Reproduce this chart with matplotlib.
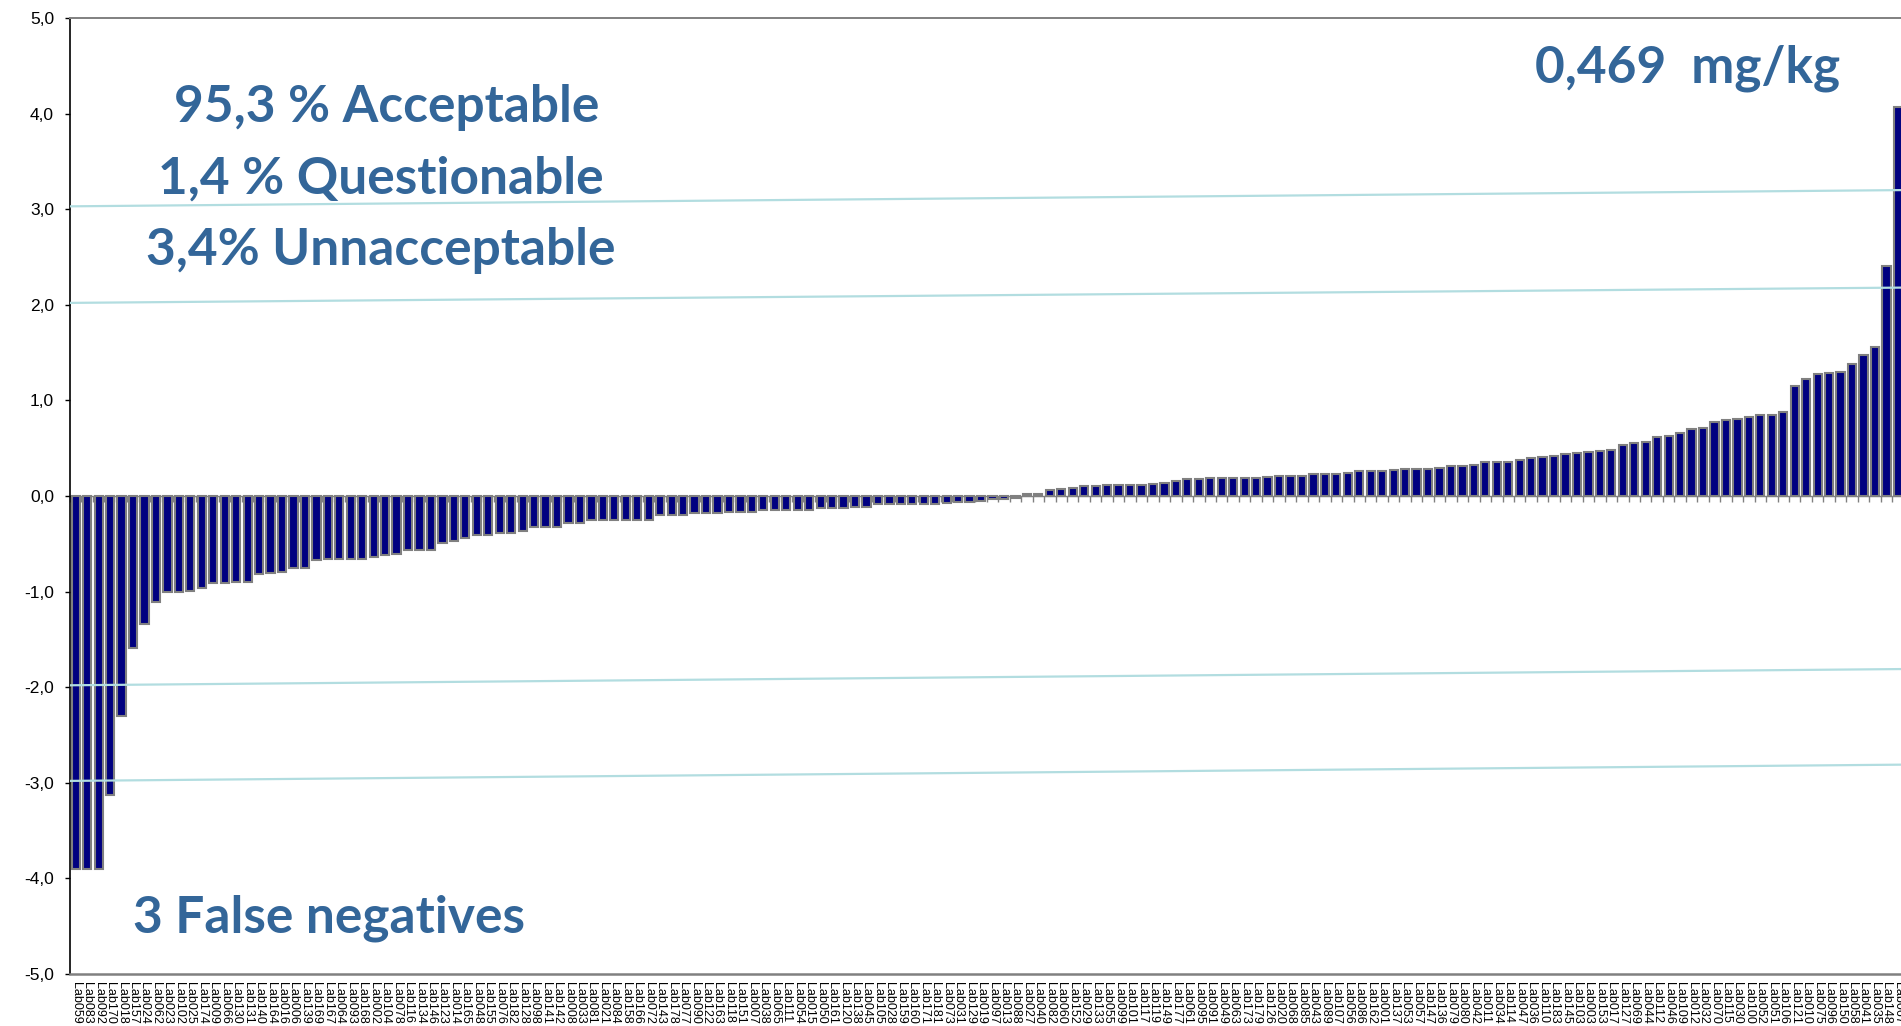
import numpy as np
import matplotlib
matplotlib.use("Agg")
import matplotlib.pyplot as plt
from matplotlib.ticker import FuncFormatter

# z-scores per lab, sorted
labs = ["Lab059", "Lab083", "Lab092", "Lab170", "Lab018", "Lab157", "Lab024", "Lab062", "Lab023", "Lab102",
        "Lab025", "Lab174", "Lab009", "Lab066", "Lab130", "Lab131", "Lab140", "Lab164", "Lab016", "Lab006",
        "Lab139", "Lab169", "Lab167", "Lab064", "Lab093", "Lab168", "Lab002", "Lab104", "Lab078", "Lab116",
        "Lab134", "Lab146", "Lab123", "Lab014", "Lab165", "Lab048", "Lab155", "Lab076", "Lab182", "Lab128",
        "Lab098", "Lab141", "Lab142", "Lab008", "Lab033", "Lab081", "Lab021", "Lab084", "Lab158", "Lab166",
        "Lab072", "Lab143", "Lab178", "Lab077", "Lab090", "Lab122", "Lab163", "Lab118", "Lab151", "Lab007",
        "Lab038", "Lab065", "Lab111", "Lab054", "Lab015", "Lab050", "Lab161", "Lab120", "Lab138", "Lab045",
        "Lab105", "Lab028", "Lab159", "Lab160", "Lab171", "Lab181", "Lab073", "Lab031", "Lab129", "Lab019",
        "Lab097", "Lab013", "Lab088", "Lab027", "Lab040", "Lab082", "Lab060", "Lab152", "Lab029", "Lab133",
        "Lab055", "Lab099", "Lab101", "Lab117", "Lab119", "Lab149", "Lab177", "Lab061", "Lab095", "Lab091",
        "Lab049", "Lab063", "Lab173", "Lab179", "Lab126", "Lab020", "Lab068", "Lab085", "Lab043", "Lab089",
        "Lab107", "Lab056", "Lab086", "Lab162", "Lab001", "Lab137", "Lab053", "Lab057", "Lab147", "Lab136",
        "Lab079", "Lab080", "Lab042", "Lab011", "Lab034", "Lab114", "Lab047", "Lab036", "Lab110", "Lab183",
        "Lab145", "Lab103", "Lab003", "Lab153", "Lab017", "Lab127", "Lab069", "Lab044", "Lab112", "Lab046",
        "Lab109", "Lab012", "Lab032", "Lab070", "Lab115", "Lab030", "Lab100", "Lab052", "Lab051", "Lab106",
        "Lab121", "Lab010", "Lab075", "Lab096", "Lab150", "Lab058", "Lab041", "Lab035", "Lab148", "Lab067"]

zscores = [-3.90, -3.90, -3.90, -3.13, -2.30, -1.59, -1.34, -1.11, -1.00, -1.00,
           -0.99, -0.96, -0.91, -0.91, -0.90, -0.90, -0.82, -0.81, -0.80, -0.75,
           -0.75, -0.67, -0.66, -0.66, -0.66, -0.66, -0.64, -0.62, -0.61, -0.57,
           -0.57, -0.56, -0.49, -0.47, -0.44, -0.41, -0.41, -0.39, -0.39, -0.37,
           -0.32, -0.32, -0.32, -0.28, -0.28, -0.25, -0.25, -0.25, -0.25, -0.25,
           -0.25, -0.20, -0.20, -0.20, -0.18, -0.18, -0.18, -0.17, -0.17, -0.17,
           -0.15, -0.15, -0.15, -0.15, -0.15, -0.13, -0.13, -0.13, -0.11, -0.11,
           -0.08, -0.08, -0.08, -0.08, -0.08, -0.08, -0.07, -0.06, -0.06, -0.05,
           -0.03, -0.03, -0.02, 0.02, 0.02, 0.06, 0.07, 0.08, 0.10, 0.10,
           0.11, 0.11, 0.11, 0.11, 0.13, 0.14, 0.16, 0.18, 0.18, 0.19,
           0.19, 0.19, 0.19, 0.19, 0.20, 0.21, 0.21, 0.21, 0.23, 0.23,
           0.23, 0.24, 0.26, 0.26, 0.26, 0.27, 0.28, 0.28, 0.28, 0.29,
           0.31, 0.31, 0.32, 0.36, 0.36, 0.36, 0.38, 0.40, 0.41, 0.42,
           0.44, 0.45, 0.46, 0.47, 0.48, 0.53, 0.55, 0.56, 0.62, 0.63,
           0.66, 0.70, 0.71, 0.77, 0.79, 0.81, 0.83, 0.85, 0.85, 0.88,
           1.15, 1.22, 1.28, 1.29, 1.30, 1.38, 1.47, 1.56, 2.41, 4.07]

# limit lines (drawn slightly tilted in the original)
limit_start = [3.03, 2.02, -1.98, -2.98]
limit_end = [3.20, 2.18, -1.81, -2.81]

notes = ["95,3 % Acceptable", "1,4 % Questionable", "3,4% Unnacceptable", "3 False negatives", "0,469  mg/kg"]

fig = plt.figure(figsize=(19.01, 10.26), dpi=100)
ax = fig.add_axes([70 / 1901, 1 - 974 / 1026, 1833.6 / 1901, 956 / 1026])

x = np.arange(len(zscores))
ax.bar(x, zscores, width=0.72, color='#000080', edgecolor='#808080', linewidth=1.5, zorder=2)

for y0, y1 in zip(limit_start, limit_end):
    ax.plot([-0.5, len(x) - 0.5], [y0, y1], color='#b2dde0', lw=1.6, zorder=3)

ax.set_xlim(-0.5, len(x) - 0.5)
ax.set_ylim(-5, 5)
ax.set_yticks(np.arange(-5, 6, 1))
ax.yaxis.set_major_formatter(FuncFormatter(lambda v, p: f"{v:.1f}".replace('.', ',')))
ax.tick_params(axis='y', direction='out', length=3.5, width=1, color='black', pad=8,
               labelsize=12.5)
for lab in ax.get_yticklabels():
    lab.set_fontfamily('Liberation Sans')

ax.set_xticks(x)
ax.set_xticklabels(labs, rotation=270, fontsize=9, fontfamily='Liberation Sans')
ax.tick_params(axis='x', length=0, pad=6)

ax.spines['left'].set_color('black')
ax.spines['left'].set_linewidth(1.2)
ax.spines['top'].set_color('#808080')
ax.spines['top'].set_linewidth(1.4)
ax.spines['bottom'].set_color('#808080')
ax.spines['bottom'].set_linewidth(1.8)
ax.spines['right'].set_visible(False)

# category axis crossing at zero, with tick marks between categories
sec = ax.secondary_xaxis(0.5)
sec.set_alignment('bottom')
sec.set_xticks([])
sec.set_xticks(np.arange(-0.5, len(x), 1), minor=True)
sec.tick_params(which='minor', direction='out', length=4, width=1, color='#808080')
sec.spines['bottom'].set_color('#808080')
sec.spines['bottom'].set_linewidth(1.0)

txt = dict(color='#336699', fontsize=37, fontweight='bold', fontfamily='Lato', ha='center', va='baseline')
fig.text(387 / 1901, 1 - 122 / 1026, notes[0], **txt)
fig.text(381 / 1901, 1 - 194 / 1026, notes[1], **txt)
fig.text(381 / 1901, 1 - 265 / 1026, notes[2], **txt)
fig.text(329 / 1901, 1 - 933 / 1026, notes[3], **txt)
fig.text(1688 / 1901, 1 - 82 / 1026, notes[4], **txt)

fig.savefig("out.png", dpi=100)
